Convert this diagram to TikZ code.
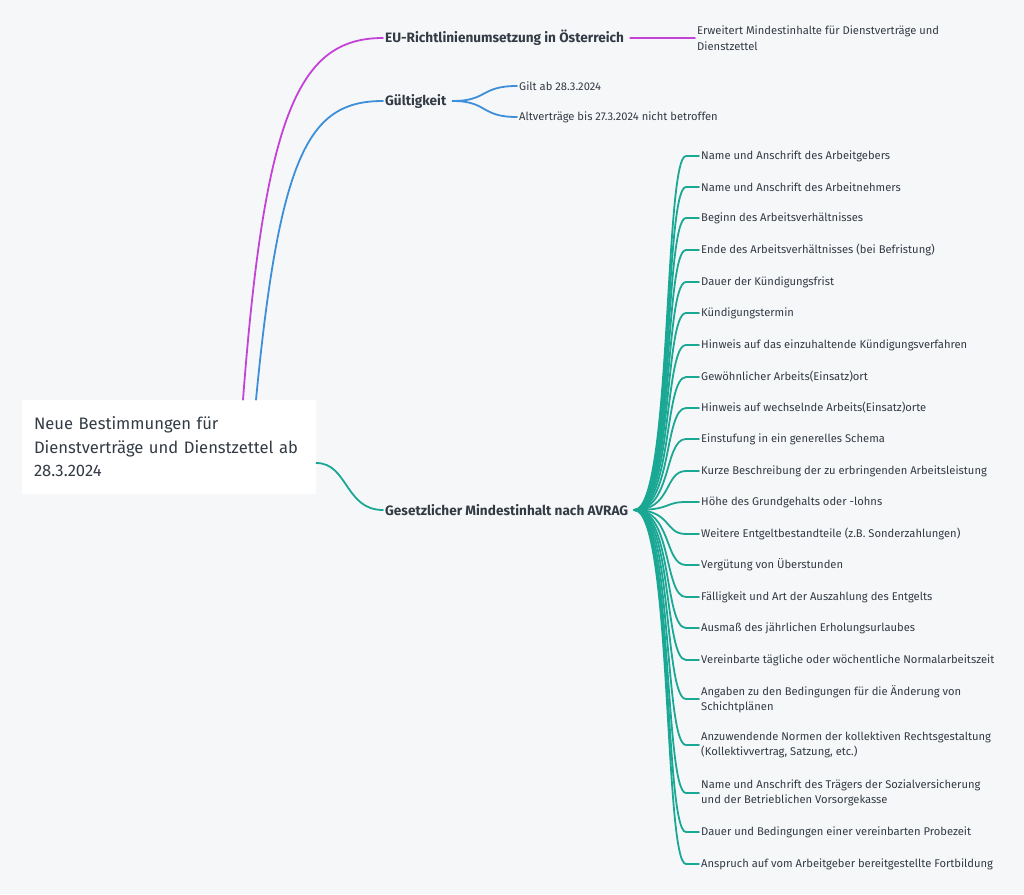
\documentclass[tikz,border=0pt]{standalone}
\usepackage{fontspec}
\setmainfont{Fira Sans}
\usetikzlibrary{positioning}
\definecolor{bgc}{HTML}{F6F7F9}
\definecolor{txt}{HTML}{333B45}
\definecolor{lila}{HTML}{C442D6}
\definecolor{blau}{HTML}{3C8FD8}
\definecolor{gruen}{HTML}{1AA895}
\tikzset{
  branch/.style={line width=1.8pt, line cap=round},
  topic/.style={font=\fontsize{13.6}{16}\selectfont\bfseries, text=txt, anchor=west, inner sep=2pt},
  leaf/.style={font=\fontsize{11.2}{15.5}\selectfont, text=txt, anchor=west, align=left, inner sep=2pt},
}
\begin{document}
\begin{tikzpicture}[x=1pt,y=-1pt]
  \fill[bgc] (0,0) rectangle (1024,894);
  \useasboundingbox (0,0) rectangle (1024,894);
  % root box
  \node[fill=white, text=txt, minimum width=294pt, minimum height=94pt, align=left,
        font=\fontsize{16.6}{23.5}\selectfont, text width=270pt, inner sep=12pt] (root) at (169,447)
        {Neue Bestimmungen für\\Dienstverträge und Dienstzettel ab\\28.3.2024};
  % topics
  \node[topic] (eu) at (383,38) {EU-Richtlinienumsetzung in Österreich};
  \node[topic] (gueltig) at (383,101) {Gültigkeit};
  \node[topic] (avrag) at (383,510) {Gesetzlicher Mindestinhalt nach AVRAG};
  % root to topics
  \draw[branch, lila] ([xshift=74pt]root.north) .. controls (265,110) and (300,38) .. (eu.west);
  \draw[branch, blau] ([xshift=87pt]root.north) .. controls (280,150) and (310,101) .. (gueltig.west);
  \draw[branch, gruen] ([yshift=-16pt]root.east) .. controls (348,463) and (345,510) .. (avrag.west);
  % EU
  \node[leaf] (euinfo) at (695,38) {Erweitert Mindestinhalte für Dienstverträge und\\Dienstzettel};
  \draw[branch, lila] (eu.east) ++(4pt,0) -- (euinfo.west);
  % Gueltigkeit
  \node[leaf] (ab) at (517,86) {Gilt ab 28.3.2024};
  \node[leaf] (alt) at (517,117) {Altverträge bis 27.3.2024 nicht betroffen};
  \foreach \k in {ab,alt}
    \draw[branch, blau] ([xshift=4pt]gueltig.east) .. controls (488,101) and (480,0 |- \k.west) .. (\k.west);
  % AVRAG
  \foreach \y/\t [count=\i] in {
    156/{Name und Anschrift des Arbeitgebers},
    187/{Name und Anschrift des Arbeitnehmers},
    218/{Beginn des Arbeitsverhältnisses},
    250/{Ende des Arbeitsverhältnisses (bei Befristung)},
    282/{Dauer der Kündigungsfrist},
    313/{Kündigungstermin},
    345/{Hinweis auf das einzuhaltende Kündigungsverfahren},
    377/{Gewöhnlicher Arbeits(Einsatz)ort},
    408/{Hinweis auf wechselnde Arbeits(Einsatz)orte},
    439/{Einstufung in ein generelles Schema},
    471/{Kurze Beschreibung der zu erbringenden Arbeitsleistung},
    502/{Höhe des Grundgehalts oder -lohns},
    534/{Weitere Entgeltbestandteile (z.B. Sonderzahlungen)},
    565/{Vergütung von Überstunden},
    597/{Fälligkeit und Art der Auszahlung des Entgelts},
    628/{Ausmaß des jährlichen Erholungsurlaubes},
    660/{Vereinbarte tägliche oder wöchentliche Normalarbeitszeit},
    699/{Angaben zu den Bedingungen für die Änderung von\\Schichtplänen},
    745/{Anzuwendende Normen der kollektiven Rechtsgestaltung\\(Kollektivvertrag, Satzung, etc.)},
    793/{Name und Anschrift des Trägers der Sozialversicherung\\und der Betrieblichen Vorsorgekasse},
    832/{Dauer und Bedingungen einer vereinbarten Probezeit},
    864/{Anspruch auf vom Arbeitgeber bereitgestellte Fortbildung}} {
    \node[leaf] (inhalt\i) at (699,\y) {\t};
    \draw[branch, gruen] ([xshift=4pt]avrag.east) .. controls (672,510) and (664,\y) .. (686,\y) -- (inhalt\i.west);
  }
\end{tikzpicture}
\end{document}
